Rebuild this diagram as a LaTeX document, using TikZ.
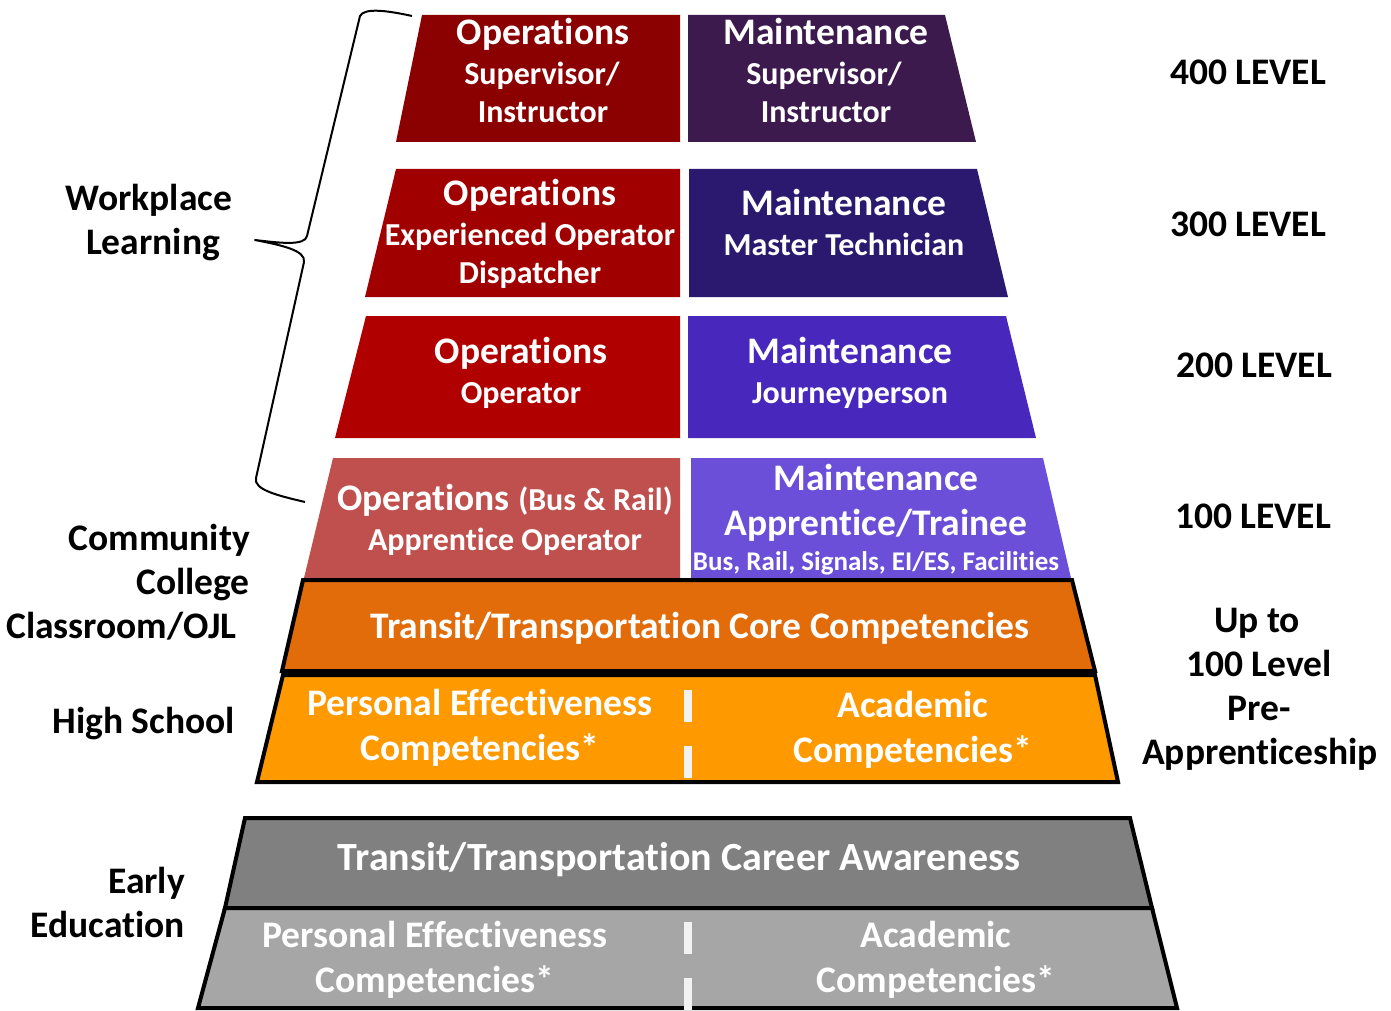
\documentclass[tikz,border=0pt]{standalone}
\usepackage{fontspec}
\setmainfont{Carlito}[Ligatures=CommonOff]
\usepackage{tikz}

\definecolor{opsA}{RGB}{139,0,0}
\definecolor{opsB}{RGB}{160,0,0}
\definecolor{opsC}{RGB}{176,0,0}
\definecolor{opsD}{RGB}{192,80,77}
\definecolor{mntA}{RGB}{60,26,78}
\definecolor{mntB}{RGB}{42,25,110}
\definecolor{mntC}{RGB}{72,40,188}
\definecolor{mntD}{RGB}{107,79,217}
\definecolor{coreC}{RGB}{227,108,10}
\definecolor{hsC}{RGB}{255,153,0}
\definecolor{grayA}{RGB}{128,128,128}
\definecolor{grayB}{RGB}{166,166,166}
\definecolor{dashC}{RGB}{242,242,242}

\tikzset{
    hd/.style = {anchor=base, inner sep=0pt, text=white, font=\bfseries\fontsize{37.5}{40}\selectfont},
    sub/.style = {anchor=base, inner sep=0pt, text=white, font=\bfseries\fontsize{32}{38}\selectfont},
    tiny/.style = {anchor=base, inner sep=0pt, text=white, font=\bfseries\fontsize{27}{30}\selectfont},
    big/.style = {hd, font=\bfseries\fontsize{40}{44}\selectfont},
    side/.style = {anchor=base, inner sep=0pt, text=black, font=\bfseries\fontsize{37.5}{40}\selectfont},
    sider/.style = {side, anchor=base east},
    band/.style = {draw=black, line width=4pt, line join=miter},
    gapline/.style = {dashC, line width=8pt, dash pattern=on 32pt off 24pt},
    brace/.style = {draw=black, line width=2pt, line join=round},
}

\begin{document}
\begin{tikzpicture}[x=1pt, y=-1pt]
\useasboundingbox (0,0) rectangle (1391,1011);
% 400 level
\fill[opsA] (422,15) -- (680,15) -- (680,142) -- (396,142) -- cycle;
\fill[mntA] (688,15) -- (945,15) -- (976,142) -- (688,142) -- cycle;
% 300 level
\fill[opsB] (396,169) -- (680,169) -- (680,297) -- (365,297) -- cycle;
\fill[mntB] (689,169) -- (977,169) -- (1008,297) -- (689,297) -- cycle;
% 200 level
\fill[opsC] (366,316) -- (680,316) -- (680,438) -- (335,438) -- cycle;
\fill[mntC] (688,316) -- (1006,316) -- (1036,438) -- (688,438) -- cycle;
% 100 level
\fill[opsD] (333,458) -- (680,458) -- (680,578) -- (304,578) -- cycle;
\fill[mntD] (691,458) -- (1043,458) -- (1071,578) -- (691,578) -- cycle;
% college / high school
\filldraw[band, fill=coreC] (303,580) -- (1072,580) -- (1095,671) -- (282,671) -- cycle;
\filldraw[band, fill=hsC] (283,675) -- (1095,675) -- (1118,782) -- (257,782) -- cycle;
\draw[gapline] (688,690) -- (688,780);
% early education
\filldraw[band, fill=grayA] (245,818) -- (1130,818) -- (1152,908) -- (225,908) -- cycle;
\filldraw[band, fill=grayB] (225,908) -- (1152,908) -- (1177,1008) -- (198,1008) -- cycle;
\draw[gapline] (688,922) -- (688,1011);
%
\node[hd] (o4a) at (543,45) {Operations};
\node[sub] (o4b) at (542,85) {Supervisor/};
\node[sub] (o4c) at (543,123) {Instructor};
\node[hd] (m4a) at (826,45) {Maintenance};
\node[sub] (m4b) at (824,85) {Supervisor/};
\node[sub] (m4c) at (826,123) {Instructor};
%
\node[hd] (o3a) at (530,205) {Operations};
\node[sub] (o3b) at (530,245) {Experienced Operator};
\node[sub] (o3c) at (530,283) {Dispatcher};
\node[hd] (m3a) at (844,215) {Maintenance};
\node[sub] (m3b) at (844,255) {Master Technician};
%
\node[hd] (o2a) at (521,363) {Operations};
\node[sub] (o2b) at (521,403) {Operator};
\node[hd] (m2a) at (850,363) {Maintenance};
\node[sub] (m2b) at (850,403) {Journeyperson};
%
\node[hd] (o1a) at (505,510) {Operations {\fontsize{32}{38}\selectfont(Bus \& Rail)}};
\node[sub] (o1b) at (505,550) {Apprentice Operator};
\node[hd] (m1a) at (876,490) {Maintenance};
\node[hd] (m1b) at (876,535) {Apprentice/Trainee};
\node[tiny] (m1c) at (876,570) {Bus, Rail, Signals, EI/ES, Facilities};
%
\node[hd] (core) at (700,638) {Transit/Transportation Core Competencies};
\node[hd] (hsl1) at (480,715) {Personal Effectiveness};
\node[hd] (hsl2) at (480,760) {Competencies*};
\node[hd] (hsr1) at (913,717) {Academic};
\node[hd] (hsr2) at (913,762) {Competencies*};
%
\node[big] (aware) at (679,870) {Transit/Transportation Career Awareness};
\node[hd] (eel1) at (435,947) {Personal Effectiveness};
\node[hd] (eel2) at (435,992) {Competencies*};
\node[hd] (eer1) at (936,947) {Academic};
\node[hd] (eer2) at (936,992) {Competencies*};
% levels
\node[side] (lv4) at (1248,85) {400 LEVEL};
\node[side] (lv3) at (1248,236) {300 LEVEL};
\node[side] (lv2) at (1254,377) {200 LEVEL};
\node[side] (lv1) at (1253,528) {100 LEVEL};
\node[side] (pre1) at (1257,632) {Up to};
\node[side] (pre2) at (1259,676) {100 Level};
\node[side] (pre3) at (1259,720) {Pre-};
\node[side] (pre4) at (1260,764) {Apprenticeship};
% settings
\node[side] (wl1) at (149,210) {Workplace};
\node[side] (wl2) at (153,254) {Learning};
\node[sider] (cc1) at (250,550) {Community};
\node[sider] (cc2) at (250,594) {College};
\node[sider] (cc3) at (237,638) {Classroom/OJL};
\node[sider] (hs) at (235,733) {High School};
\node[sider] (ee1) at (185,893) {Early};
\node[sider] (ee2) at (185,937) {Education};
%
\draw[brace] (412,16) .. controls (385,10) and (364,8) .. (360,16) -- (307,236)
  .. controls (305,246) and (280,243) .. (255,240)
  .. controls (280,245) and (306,250) .. (304,262) -- (256,478)
  .. controls (253,490) and (280,496) .. (305,502);
\end{tikzpicture}
\end{document}
